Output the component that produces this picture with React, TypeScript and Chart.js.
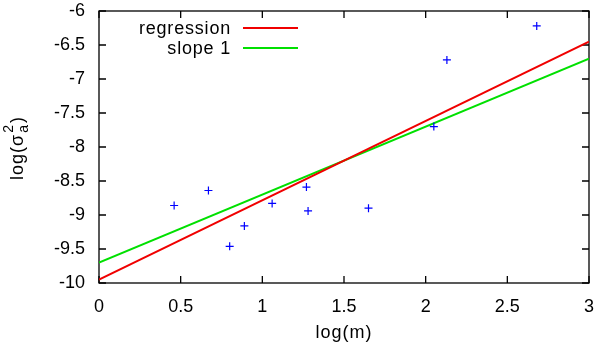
import React, { useEffect, useRef } from "react";
import { Chart, registerables } from "chart.js";

Chart.register(...registerables);

// ---- data ----
const massLog = [0.46, 0.67, 0.8, 0.89, 1.06, 1.27, 1.28, 1.65, 2.05, 2.13, 2.68];
const varianceLog = [-8.86, -8.64, -9.46, -9.16, -8.83, -8.59, -8.94, -8.9, -7.7, -6.72, -6.22];
const fitX = [0, 3];
const regressionY = [-9.95, -6.45];
const slopeOneY = [-9.7, -6.7];
const seriesLabels = ["regression", "slope 1"];
const xTickValues = [0, 0.5, 1, 1.5, 2, 2.5, 3];
const yTickValues = [-10, -9.5, -9, -8.5, -8, -7.5, -7, -6.5, -6];
const xTitle = "log(m)";

const FONT = "'Liberation Sans', Arial, Helvetica, sans-serif";
const RED = "rgb(240,0,0)";
const GREEN = "rgb(0,224,0)";
const BLUE = "rgb(0,0,255)";

const framePlugin = {
  id: "gnuplotFrame",
  beforeDatasetsDraw(chart: any) {
    const { ctx, chartArea: a, scales } = chart;
    ctx.save();
    ctx.strokeStyle = "#000";
    ctx.lineWidth = 1.3;
    ctx.strokeRect(a.left, a.top, a.right - a.left, a.bottom - a.top);
    const tl = 7;
    ctx.beginPath();
    for (const v of xTickValues) {
      const px = scales.x.getPixelForValue(v);
      ctx.moveTo(px, a.bottom);
      ctx.lineTo(px, a.bottom - tl);
      ctx.moveTo(px, a.top);
      ctx.lineTo(px, a.top + tl);
    }
    for (const v of yTickValues) {
      const py = scales.y.getPixelForValue(v);
      ctx.moveTo(a.left, py);
      ctx.lineTo(a.left + tl, py);
      ctx.moveTo(a.right, py);
      ctx.lineTo(a.right - tl, py);
    }
    ctx.stroke();
    ctx.restore();
  },
  afterDraw(chart: any) {
    const { ctx, chartArea: a } = chart;
    ctx.save();
    ctx.fillStyle = "#000";
    // legend
    ctx.font = `18px ${FONT}`;
    (ctx as any).letterSpacing = "0.8px";
    ctx.textAlign = "right";
    ctx.textBaseline = "middle";
    const colors = [RED, GREEN];
    seriesLabels.forEach((lab, i) => {
      const y = a.top + 17 + i * 20;
      ctx.fillStyle = "#000";
      ctx.fillText(lab, a.left + 132, y + 1);
      ctx.strokeStyle = colors[i];
      ctx.lineWidth = 2;
      ctx.beginPath();
      ctx.moveTo(a.left + 144, y);
      ctx.lineTo(a.left + 199, y);
      ctx.stroke();
    });
    // x title
    (ctx as any).letterSpacing = "1px";
    ctx.fillStyle = "#000";
    ctx.textAlign = "center";
    ctx.textBaseline = "alphabetic";
    ctx.fillText(xTitle, (a.left + a.right) / 2, 338);
    // y title: log(σ_a^2)
    const cy = (a.top + a.bottom) / 2 + 1;
    ctx.translate(23, cy);
    ctx.rotate(-Math.PI / 2);
    ctx.textAlign = "left";
    const big = `18px ${FONT}`;
    const small = `14px ${FONT}`;
    ctx.font = big;
    const p1 = "log(\u03c3";
    const p3 = ")";
    const w1 = ctx.measureText(p1).width;
    const w3 = ctx.measureText(p3).width;
    ctx.font = small;
    const wSub = ctx.measureText("a").width;
    const wSup = ctx.measureText("2").width;
    const wMid = Math.max(wSub, wSup) + 2;
    const total = w1 + wMid + w3;
    let x = -total / 2;
    ctx.font = big;
    ctx.fillText(p1, x, 0);
    x += w1;
    ctx.font = small;
    ctx.fillText("a", x + 1, 5);
    ctx.fillText("2", x + 1, -10);
    x += wMid;
    ctx.font = big;
    ctx.fillText(p3, x, 0);
    ctx.restore();
  },
};

export default function App() {
  const ref = useRef<HTMLCanvasElement | null>(null);
  useEffect(() => {
    document.body.style.margin = "0";
    const canvas = ref.current;
    if (!canvas) return;
    const chart = new Chart(canvas, {
      type: "scatter",
      data: {
        datasets: [
          {
            label: "data",
            data: massLog.map((m, i) => ({ x: m, y: varianceLog[i] })),
            pointStyle: "cross",
            pointRadius: 4,
            pointBorderWidth: 1.2,
            borderColor: BLUE,
            backgroundColor: BLUE,
            showLine: false,
          },
          {
            label: seriesLabels[0],
            data: fitX.map((x, i) => ({ x, y: regressionY[i] })),
            showLine: true,
            borderColor: RED,
            borderWidth: 2,
            pointRadius: 0,
          },
          {
            label: seriesLabels[1],
            data: fitX.map((x, i) => ({ x, y: slopeOneY[i] })),
            showLine: true,
            borderColor: GREEN,
            borderWidth: 2,
            pointRadius: 0,
          },
        ],
      },
      options: {
        responsive: false,
        animation: false,
        events: [],
        layout: { autoPadding: false, padding: { top: 11, right: 11, left: 0, bottom: 0 } },
        plugins: { legend: { display: false }, tooltip: { enabled: false } },
        scales: {
          x: {
            type: "linear",
            min: 0,
            max: 3,
            grid: { display: false, drawTicks: false },
            border: { display: false },
            afterBuildTicks: (s: any) => {
              s.ticks = xTickValues.map((v) => ({ value: v }));
            },
            afterFit: (s: any) => {
              s.height = 62;
              s.paddingLeft = 0;
              s.paddingRight = 0;
              s.paddingTop = 0;
              s.paddingBottom = 0;
            },
            ticks: {
              padding: 13,
              color: "#000",
              font: { family: FONT, size: 18 },
              maxRotation: 0,
              autoSkip: false,
              callback: (v: any) => String(v),
            },
          },
          y: {
            type: "linear",
            min: -10,
            max: -6,
            grid: { display: false, drawTicks: false },
            border: { display: false },
            afterBuildTicks: (s: any) => {
              s.ticks = yTickValues.map((v) => ({ value: v }));
            },
            afterFit: (s: any) => {
              s.width = 99;
              s.paddingLeft = 0;
              s.paddingRight = 0;
              s.paddingTop = 0;
              s.paddingBottom = 0;
            },
            ticks: {
              padding: 14,
              color: "#000",
              font: { family: FONT, size: 18 },
              autoSkip: false,
              callback: (v: any) => String(v),
            },
          },
        },
      },
      plugins: [framePlugin],
    });
    return () => chart.destroy();
  }, []);
  return <canvas ref={ref} width={600} height={345} style={{ display: "block" }} />;
}
